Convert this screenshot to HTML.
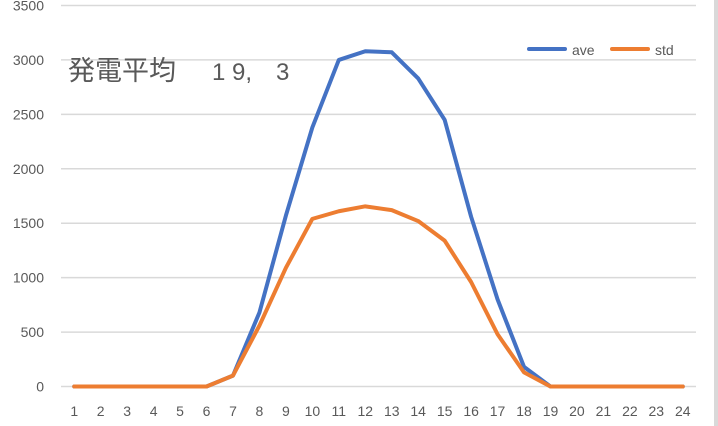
<!DOCTYPE html>
<html><head><meta charset="utf-8"><style>
body{margin:0;background:#fff;}
svg{display:block;font-family:"Liberation Sans","Noto Sans CJK JP",sans-serif;}
</style></head><body>
<svg id="c" width="718" height="426">
<rect x="714" y="0" width="4" height="426" fill="#d9d9d9"/>
<g id="grid"></g><g id="ylab"></g><g id="xlab"></g><g id="lines"></g>
<text y="80" font-size="24" fill="#595959"><tspan x="68" font-size="27">発電平均</tspan><tspan x="212">1</tspan><tspan x="232">9,</tspan><tspan x="276">3</tspan></text>
<g>
<line x1="529" y1="49" x2="565" y2="49" stroke="#4472c4" stroke-width="4" stroke-linecap="round"/>
<text x="572" y="55" font-size="14" fill="#595959">ave</text>
<line x1="612" y1="49" x2="648" y2="49" stroke="#ed7d31" stroke-width="4" stroke-linecap="round"/>
<text x="655" y="55" font-size="14" fill="#595959">std</text>
</g>
</svg>
<script>
const categories=[1,2,3,4,5,6,7,8,9,10,11,12,13,14,15,16,17,18,19,20,21,22,23,24];
const aveValues=[0,0,0,0,0,0,100,680,1570,2380,3000,3080,3070,2830,2450,1560,800,180,0,0,0,0,0,0];
const stdValues=[0,0,0,0,0,0,100,560,1090,1540,1610,1655,1620,1520,1340,960,480,130,0,0,0,0,0,0];
const yTicks=[0,500,1000,1500,2000,2500,3000,3500];
const NS="http://www.w3.org/2000/svg";
const L=61,R=696,Y0=386.5,Y1=5.5,YMAX=3500;
const xs=i=>L+(i+0.5)*(R-L)/categories.length;
const ys=v=>Y0-(v/YMAX)*(Y0-Y1);
function mk(t,a,p){const e=document.createElementNS(NS,t);for(const k in a)e.setAttribute(k,a[k]);document.getElementById(p).appendChild(e);return e;}
yTicks.forEach(v=>{
 const g=mk('line',{x1:L,x2:R,y1:ys(v),y2:ys(v),stroke:'#d9d9d9','stroke-width':1.5},'grid');
 
 
 const t=mk('text',{x:44,y:ys(v)+5,'font-size':14,fill:'#595959','text-anchor':'end'},'ylab');
 t.textContent=v;
 
 
});
categories.forEach((c,i)=>{
 const t=mk('text',{x:xs(i),y:416,'font-size':14,fill:'#595959','text-anchor':'middle'},'xlab');
 t.textContent=c;
 
 
});
[[aveValues,'#4472c4','ave'],[stdValues,'#ed7d31','std']].forEach(([vals,col,n])=>{
 const p=mk('polyline',{points:vals.map((v,i)=>xs(i)+','+ys(v)).join(' '),fill:'none',stroke:col,'stroke-width':4,'stroke-linejoin':'round','stroke-linecap':'round'},'lines');
 
 
});
</script>
</body></html>
